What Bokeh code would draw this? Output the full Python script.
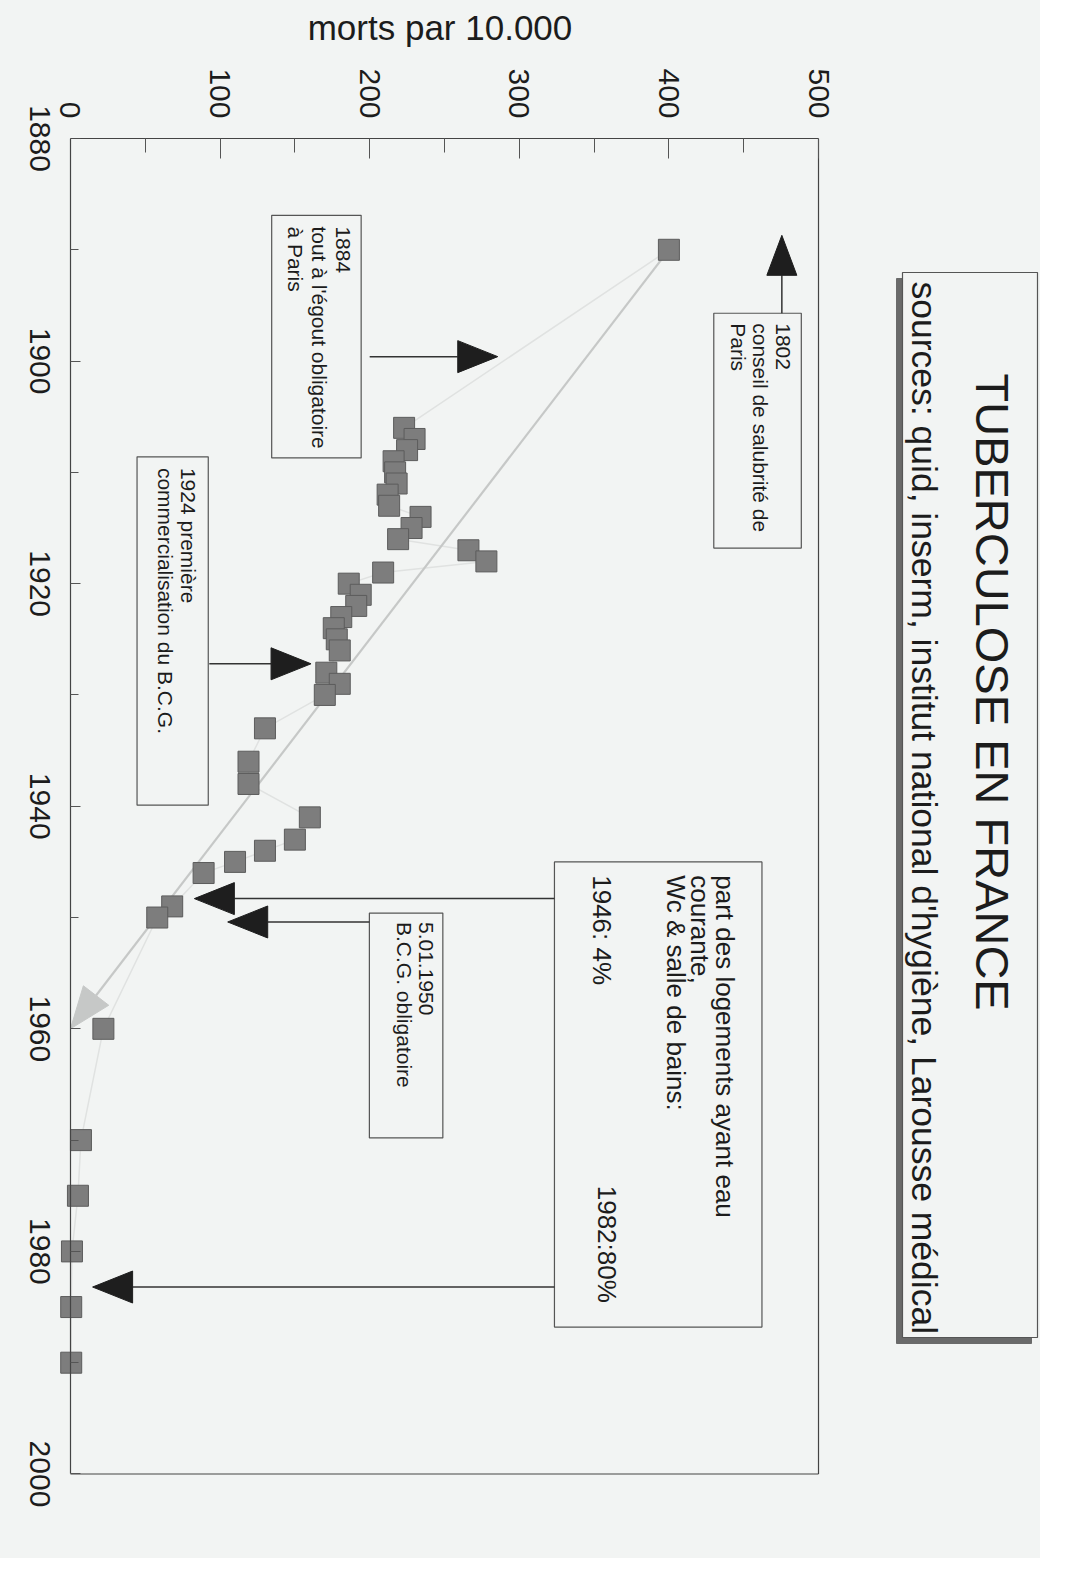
import math
from bokeh.plotting import figure
from bokeh.layouts import row
from bokeh.models import Range1d, FixedTicker, LinearAxis
from bokeh.core.properties import value
from bokeh.embed import file_html
from bokeh.resources import INLINE

# ---------------- data ----------------
years = [1890, 1906, 1907, 1908, 1909, 1910, 1911, 1912, 1913, 1914, 1915, 1916,
         1917, 1918, 1919, 1920, 1921, 1922, 1923, 1924, 1925, 1926, 1928, 1929,
         1930, 1933, 1936, 1938, 1941, 1943, 1944, 1945, 1946, 1949, 1950, 1960,
         1970, 1975, 1980, 1985, 1990]
deaths = [400, 223, 230, 225, 216, 217, 218, 212, 213, 234, 228, 219,
          266, 278, 209, 186, 194, 191, 181, 176, 178, 180, 171, 180,
          170, 130, 119, 119, 160, 150, 130, 110, 89, 68, 58, 22,
          7, 5, 1, 0.5, 0.5]

death_ticks = [0, 100, 200, 300, 400, 500]
death_minor = [50, 150, 250, 350, 450]
year_ticks = [1880, 1900, 1920, 1940, 1960, 1980, 2000]
year_minor = [1890, 1910, 1930, 1950, 1970, 1990]
death_lim = (0, 500)
year_lim = (1880, 2000)

title_text = "TUBERCULOSE EN FRANCE"
subtitle_text = "sources: quid, inserm, institut national d'hygi\u00e8ne, Larousse m\u00e9dical"
axis_label = "morts par 10.000"

# trend arrow (from, to) in (deaths, year)
trend_from = (400, 1890)
trend_to = (0, 1960)

# annotation boxes: left, right (deaths), top, bottom (year)
box_left = [430, 134.5, 44.5, 199.8, 323.5]
box_right = [488.5, 194.3, 92.1, 248.9, 462.2]
box_top = [1895.7, 1886.9, 1908.6, 1949.6, 1945.0]
box_bottom = [1916.8, 1908.7, 1939.9, 1969.8, 1986.8]

note_x = [484.0, 190.0, 86.5, 245.5, 447.5]
note_y = [1896.6, 1887.9, 1909.6, 1950.4, 1946.2]
note_text = [
    "1802\nconseil de  salubrit\u00e9 de\nParis",
    "1884\ntout \u00e0 l'\u00e9gout obligatoire\n\u00e0 Paris",
    "1924 premi\u00e8re\ncommercialisation du B.C.G.",
    "5.01.1950\nB.C.G. obligatoire",
    "part des logements ayant eau\ncourante,\nWc & salle de bains:\n\n\n1946: 4%",
]
note_size = ["21px", "21px", "21px", "21px", "26px"]
note_lh = [0.96, 1.03, 1.0, 0.94, 0.82]
extra_x = [368.5]
extra_y = [1974.1]
extra_text = ["1982:80%"]

# horizontal black arrows: year, from (deaths), tip (deaths)
harrow_year = [1899.6, 1927.2, 1948.3, 1950.4, 1983.2]
harrow_from = [200.0, 92.8, 323.5, 199.8, 323.5]
harrow_tip = [285.6, 160.8, 82.8, 105.1, 14.8]
# vertical arrow (1802): deaths, from year, tip year
varrow_x = 475.5
varrow_from = 1895.7
varrow_tip = 1888.7

# ---------------- layout ----------------
W1, W2, H = 880, 160, 1558
XPAD_L, XPAD_R, YPAD_B = 8, 2, 4          # small room so edge squares are not cut
BL, BT = 58, 138
FW, FH = 763, 1380
BG = "#f2f4f3"
INK = "#1c1c1c"
EDGE = "#444444"
sx = FW / (death_lim[1] - death_lim[0] + XPAD_L + XPAD_R)   # px per death unit
sy = FH / (year_lim[1] - year_lim[0] + YPAD_B)              # px per year
FONT = value("Liberation Sans")

p = figure(width=W1, height=H,
           x_range=Range1d(death_lim[0] - XPAD_L, death_lim[1] + XPAD_R),
           y_range=Range1d(year_lim[1] + YPAD_B, year_lim[0]),
           x_axis_location="above", y_axis_location="left",
           output_backend="svg", toolbar_location=None,
           min_border_left=BL, min_border_top=BT,
           min_border_right=W1 - BL - FW, min_border_bottom=H - BT - FH)
p.background_fill_color = BG
p.border_fill_color = BG
p.outline_line_color = None
p.grid.visible = False

xa = p.xaxis[0]
xa.ticker = FixedTicker(ticks=death_ticks, minor_ticks=death_minor)
xa.bounds = death_lim
xa.major_label_orientation = -math.pi / 2
xa.axis_label = axis_label
xa.axis_label_text_font = "Liberation Sans"
xa.axis_label_text_font_style = "normal"
xa.axis_label_text_font_size = "35px"
xa.axis_label_text_color = INK
xa.axis_label_standoff = 18
xa.major_label_text_font = "Liberation Sans"
xa.major_label_text_font_size = "30px"
xa.major_label_text_color = INK
xa.major_label_standoff = 20
xa.major_tick_in = 20
xa.major_tick_out = 0
xa.minor_tick_in = 14
xa.minor_tick_out = 0
xa.axis_line_color = EDGE
xa.axis_line_width = 1.2
xa.major_tick_line_color = "#555555"
xa.minor_tick_line_color = "#555555"

# main year axis: line + ticks at deaths = 0
ya = p.yaxis[0]
ya.ticker = FixedTicker(ticks=year_ticks, minor_ticks=year_minor)
ya.bounds = year_lim
ya.fixed_location = 0
ya.major_label_text_font_size = "1px"
ya.major_label_text_color = None
ya.major_label_standoff = 0
ya.major_tick_in = 10
ya.major_tick_out = 0
ya.minor_tick_in = 8
ya.minor_tick_out = 0
ya.axis_line_color = EDGE
ya.axis_line_width = 1.2
ya.major_tick_line_color = "#555555"
ya.minor_tick_line_color = "#555555"

# year labels, centred on their ticks (shifted range, labels only)
half_label = 2 * 0.556 * 30 / sy
p.extra_y_ranges = {"ylab": Range1d(year_lim[1] + YPAD_B - half_label, year_lim[0] - half_label)}
yl = LinearAxis(y_range_name="ylab", ticker=FixedTicker(ticks=year_ticks))
yl.major_label_orientation = -math.pi / 2
yl.major_label_text_font = "Liberation Sans"
yl.major_label_text_font_size = "30px"
yl.major_label_text_color = INK
yl.major_label_standoff = 19
yl.major_tick_in = 0
yl.major_tick_out = 0
yl.minor_tick_line_color = None
yl.major_tick_line_color = None
yl.axis_line_color = None
p.add_layout(yl, "left")

# right and bottom edges of the plot box
p.segment(x0=[death_lim[1], death_lim[0]], y0=[year_lim[0], year_lim[1]],
          x1=[death_lim[1], death_lim[1]], y1=[year_lim[1], year_lim[1]],
          line_color=EDGE, line_width=1.2)

# faint line joining the points
p.line(deaths, years, line_color="#e0e2e1", line_width=1.5)

# grey trend arrow
x0, y0 = trend_from[0] * sx, (trend_from[1] - 1880) * sy
x1, y1 = trend_to[0] * sx, (trend_to[1] - 1880) * sy
L = math.hypot(x1 - x0, y1 - y0)
ux, uy = (x1 - x0) / L, (y1 - y0) / L
bx, by = x1 - 42 * ux, y1 - 42 * uy
nx, ny = -uy, ux
p.line([x0 / sx, bx / sx], [1880 + y0 / sy, 1880 + by / sy], line_color="#c6c8c7", line_width=2.2)
p.patch([x1 / sx, (bx + 16 * nx) / sx, (bx - 16 * nx) / sx],
        [1880 + y1 / sy, 1880 + (by + 16 * ny) / sy, 1880 + (by - 16 * ny) / sy],
        fill_color="#c6c8c7", line_color="#c6c8c7")

# annotation boxes
p.quad(left=box_left, right=box_right, top=box_top, bottom=box_bottom,
       fill_color=BG, line_color="#555555", line_width=1.2)
for tx, ty, tt, ts, lh in zip(note_x, note_y, note_text, note_size, note_lh):
    p.text(x=[tx], y=[ty], text=[tt], angle=-math.pi / 2,
           text_font=FONT, text_font_size=ts, text_color=INK,
           text_align="left", text_baseline="top", text_line_height=lh)
p.text(x=extra_x, y=extra_y, text=extra_text, angle=-math.pi / 2,
       text_font=FONT, text_font_size="26px", text_color=INK,
       text_align="left", text_baseline="top")

# black arrows
hx0, hx1, hy = [], [], []
tri_x, tri_y = [], []
for yr, a, tp in zip(harrow_year, harrow_from, harrow_tip):
    s = 1 if tp > a else -1
    base = tp - s * 40 / sx
    hx0.append(a); hx1.append(base); hy.append(yr)
    tri_x.append([tp, base, base])
    tri_y.append([yr, yr - 16 / sy, yr + 16 / sy])
vbase = varrow_tip + 40 / sy
tri_x.append([varrow_x, varrow_x - 15 / sx, varrow_x + 15 / sx])
tri_y.append([varrow_tip, vbase, vbase])
p.segment(x0=hx0 + [varrow_x], y0=hy + [varrow_from], x1=hx1 + [varrow_x], y1=hy + [vbase],
          line_color="#333333", line_width=1.5)
p.patches(tri_x, tri_y, fill_color="#1e1e1e", line_color="#1e1e1e")

# data squares
p.scatter(deaths, years, marker="square", size=21, fill_color="#7d7d7d",
          line_color="#5c5c5c", line_width=1)

# ---------------- title panel (page-pixel coordinates) ----------------
t = figure(width=W2, height=H, x_range=Range1d(0, W2), y_range=Range1d(BT + FH, BT),
           x_axis_location=None, y_axis_location=None,
           output_backend="svg", toolbar_location=None,
           min_border_left=0, min_border_right=0)
t.background_fill_color = BG
t.border_fill_color = BG
t.outline_line_color = None
t.grid.visible = False
ox = W1
t.quad(left=[896 - ox], right=[1031 - ox], top=[278], bottom=[1343],
       fill_color="#6a6a6a", line_color="#6a6a6a")
t.quad(left=[902 - ox], right=[1037 - ox], top=[272], bottom=[1337],
       fill_color=BG, line_color="#555555", line_width=1.2)
t.text(x=[992 - ox], y=[373], text=[title_text], angle=-math.pi / 2,
       text_font=FONT, text_font_size="47px", text_color=INK,
       text_align="left", text_baseline="middle")
t.text(x=[923 - ox], y=[281], text=[subtitle_text], angle=-math.pi / 2,
       text_font=FONT, text_font_size="35.5px", text_color=INK,
       text_align="left", text_baseline="middle")

layout = row(p, t, styles={"background-color": BG})
open("out.html", "w").write(file_html(layout, INLINE))
